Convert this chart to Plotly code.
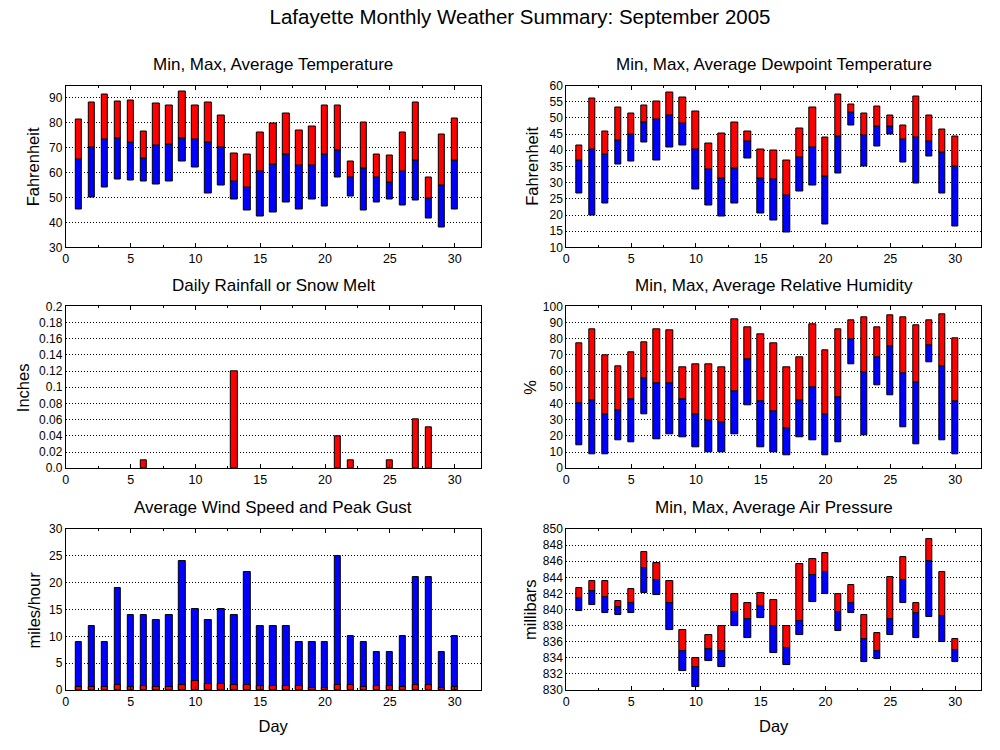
import plotly.graph_objects as go

days = list(range(1, 31))

temp_max = [81.3, 88.0, 91.3, 88.4, 88.8, 76.6, 87.6, 86.9, 92.4, 86.9, 88.0, 82.9, 67.6, 67.2, 76.2,
            79.8, 83.7, 77.0, 78.6, 86.9, 86.9, 64.4, 80.2, 67.2, 66.8, 76.2, 88.0, 58.1, 75.4, 81.7]
temp_avg = [65.3, 70.3, 73.5, 73.9, 72.3, 65.6, 71.1, 71.5, 73.9, 73.5, 72.3, 70.3, 56.5, 54.2, 60.5,
            63.2, 67.2, 62.8, 62.8, 67.2, 68.8, 58.1, 61.7, 58.1, 56.1, 60.5, 64.8, 49.8, 55.0, 64.8]
temp_min = [45.1, 50.2, 54.2, 57.3, 56.9, 56.5, 55.4, 56.5, 64.4, 62.0, 51.8, 55.0, 49.4, 44.7, 42.4,
            43.9, 47.9, 45.1, 49.1, 46.3, 58.1, 50.6, 44.7, 47.9, 49.1, 46.7, 48.7, 41.6, 38.0, 45.1]

dew_max = [41.4, 56.0, 45.9, 53.2, 51.4, 53.8, 55.0, 57.8, 56.3, 52.0, 42.0, 45.3, 48.7, 45.9, 40.2,
           39.9, 36.8, 46.8, 53.2, 43.8, 57.2, 54.1, 51.4, 53.5, 50.8, 47.8, 56.6, 50.8, 46.5, 44.1]
dew_avg = [36.7, 40.2, 38.6, 42.9, 45.0, 48.7, 49.6, 50.8, 48.4, 40.2, 34.1, 31.4, 34.4, 42.6, 31.4,
           31.1, 25.9, 37.7, 40.8, 32.0, 44.1, 51.7, 44.7, 47.4, 47.4, 43.2, 43.8, 42.6, 39.3, 35.0]
dew_min = [26.7, 19.8, 23.7, 35.6, 36.5, 42.3, 36.8, 40.8, 41.4, 28.0, 22.9, 19.5, 23.7, 37.4, 20.4,
           18.3, 14.5, 27.4, 29.2, 17.1, 32.9, 47.8, 35.0, 41.1, 45.0, 36.2, 29.8, 38.0, 26.8, 16.5]

rain = [0, 0, 0, 0, 0, 0.01, 0, 0, 0, 0, 0, 0, 0.12, 0, 0,
        0, 0, 0, 0, 0, 0.04, 0.01, 0, 0, 0.01, 0, 0.06, 0.05, 0, 0]

hum_max = [77.3, 85.8, 70.0, 62.8, 71.9, 77.9, 85.8, 85.2, 62.1, 64.0, 64.0, 62.1, 91.9, 87.0, 82.8,
           77.3, 62.1, 68.2, 88.9, 73.1, 85.8, 91.3, 93.1, 87.0, 94.3, 93.1, 88.3, 91.3, 94.9, 80.4]
hum_avg = [40.3, 42.1, 33.6, 36.0, 42.7, 55.5, 52.4, 52.4, 42.7, 33.0, 29.4, 28.1, 47.6, 67.0, 41.5,
           35.4, 24.5, 42.1, 50.0, 33.6, 43.9, 79.8, 59.1, 68.8, 75.5, 58.5, 53.0, 76.1, 62.8, 41.5]
hum_min = [14.2, 8.7, 8.7, 17.0, 16.0, 33.0, 17.8, 20.9, 19.0, 13.0, 9.9, 9.9, 20.9, 39.1, 13.0,
           9.9, 8.1, 19.0, 17.2, 8.1, 16.0, 64.0, 20.2, 51.2, 45.1, 25.1, 14.8, 65.2, 17.2, 8.7]

wind_gust = [9, 12, 9, 19, 14, 14, 13, 14, 24, 15, 13, 15, 14, 22, 12,
             12, 12, 9, 9, 9, 25, 10, 9, 7, 7, 10, 21, 21, 7, 10]
wind_avg = [0.5, 0.5, 0.5, 1.0, 0.5, 0.7, 0.5, 0.5, 1.0, 1.6, 1.2, 1.2, 0.85, 1.0, 0.7,
            0.7, 0.7, 0.7, 0.4, 0.3, 0.85, 0.85, 0.5, 0.7, 0.7, 0.5, 0.85, 0.85, 0.4, 0.5]

pres_max = [842.7, 843.5, 843.5, 841.0, 842.6, 847.2, 845.8, 843.5, 837.4, 834.0, 836.8, 837.9, 841.9, 840.8, 842.0,
            841.2, 838.0, 845.7, 846.3, 847.0, 841.9, 843.1, 839.3, 837.1, 844.0, 846.5, 840.8, 848.8, 844.7, 836.3]
pres_avg = [841.4, 842.3, 841.6, 840.3, 840.8, 845.1, 843.7, 840.8, 834.8, 832.8, 835.1, 834.8, 839.7, 838.8, 840.4,
            838.0, 835.2, 838.6, 844.3, 844.6, 839.7, 840.8, 836.3, 834.8, 838.8, 843.7, 839.5, 846.0, 839.2, 835.0]
pres_min = [839.8, 840.5, 839.6, 839.3, 839.6, 842.1, 841.8, 837.5, 832.3, 830.4, 833.6, 832.9, 838.0, 836.5, 839.0,
            834.6, 833.1, 836.8, 840.9, 841.9, 837.3, 839.5, 833.5, 833.9, 836.8, 840.8, 836.4, 839.1, 836.0, 833.5]

RED = "#ff0000"
BLUE = "#0000ff"
BW = 0.5
LINE = dict(color="black", width=1)

fig = go.Figure()


def range_bars(n, mn, av, mx):
    fig.add_trace(go.Bar(x=days, y=[a - b for a, b in zip(av, mn)], base=mn, width=BW,
                         marker=dict(color=BLUE, line=LINE), xaxis=f"x{n}", yaxis=f"y{n}",
                         showlegend=False, hoverinfo="skip"))
    fig.add_trace(go.Bar(x=days, y=[a - b for a, b in zip(mx, av)], base=av, width=BW,
                         marker=dict(color=RED, line=LINE), xaxis=f"x{n}", yaxis=f"y{n}",
                         showlegend=False, hoverinfo="skip"))


range_bars(1, temp_min, temp_avg, temp_max)
range_bars(2, dew_min, dew_avg, dew_max)
fig.add_trace(go.Bar(x=days, y=rain, width=BW,
                     marker=dict(color=RED, line=dict(color="black", width=[1 if v > 0 else 0 for v in rain])),
                     xaxis="x3", yaxis="y3", showlegend=False, hoverinfo="skip"))
range_bars(4, hum_min, hum_avg, hum_max)
fig.add_trace(go.Bar(x=days, y=wind_gust, width=BW, marker=dict(color=BLUE, line=LINE),
                     xaxis="x5", yaxis="y5", showlegend=False, hoverinfo="skip"))
fig.add_trace(go.Bar(x=days, y=wind_avg, width=BW, marker=dict(color=RED, line=LINE),
                     xaxis="x5", yaxis="y5", showlegend=False, hoverinfo="skip"))
range_bars(6, pres_min, pres_avg, pres_max)

FONT = "Liberation Sans, Arial, sans-serif"
W, H = 1000, 750
xdoms = [[63 / W, 479 / W], [565 / W, 981 / W]]
ydoms = [[1 - 245 / H, 1 - 80 / H], [1 - 470 / H, 1 - 305 / H], [1 - 696 / H, 1 - 532 / H]]

yspecs = {
    1: dict(range=[30, 95], tickvals=[30, 40, 50, 60, 70, 80, 90], title="Fahrenheit", tx=31),
    2: dict(range=[10, 60], tickvals=list(range(10, 61, 5)), title="Fahrenheit", tx=531),
    3: dict(range=[0, 0.2], tickvals=[0, 0.02, 0.04, 0.06, 0.08, 0.1, 0.12, 0.14, 0.16, 0.18, 0.2],
            ticktext=["0.0", "0.02", "0.04", "0.06", "0.08", "0.1", "0.12", "0.14", "0.16", "0.18", "0.2"],
            title="Inches", tx=20),
    4: dict(range=[0, 100], tickvals=list(range(0, 101, 10)), title="%", tx=529),
    5: dict(range=[0, 30], tickvals=list(range(0, 31, 5)), title="miles/hour", tx=31),
    6: dict(range=[830, 850], tickvals=list(range(830, 851, 2)), title="millibars", tx=528),
}

layout = dict(
    width=W, height=H, margin=dict(l=0, r=0, t=0, b=0),
    paper_bgcolor="white", plot_bgcolor="white",
    barmode="overlay", bargap=0,
    font=dict(family=FONT, size=12, color="black"),
    title=dict(text="Lafayette Monthly Weather Summary: September 2005", x=0.52, xanchor="center",
               y=1 - 17 / H, yanchor="middle", font=dict(size=20.5, family=FONT)),
)

for n in range(1, 7):
    row = (n - 1) // 2
    col = (n - 1) % 2
    sp = yspecs[n]
    layout[f"xaxis{n}"] = dict(
        domain=xdoms[col], anchor=f"y{n}", range=[0, 32],
        tickvals=[0, 5, 10, 15, 20, 25, 30], showgrid=False, zeroline=False,
        showline=True, linecolor="black", linewidth=1, mirror="allticks",
        ticks="inside", ticklen=4, tickcolor="black",
        minor=dict(tickvals=[2.5, 7.5, 12.5, 17.5, 22.5, 27.5], ticks="inside", ticklen=2, tickcolor="black"),
        tickfont=dict(size=12.5, family=FONT),
        title=dict(text="Day", font=dict(size=16.5, family=FONT), standoff=12) if row == 2 else None,
    )
    yax = dict(
        domain=ydoms[row], anchor=f"x{n}", range=sp["range"], tickvals=sp["tickvals"],
        showgrid=True, gridcolor="black", griddash="1px,2px", gridwidth=1, zeroline=False,
        showline=True, linecolor="black", linewidth=1, mirror=True, ticks="",
        tickfont=dict(size=12, family=FONT),
    )
    if "ticktext" in sp:
        yax["ticktext"] = sp["ticktext"]
    layout[f"yaxis{n}"] = yax

fig.update_layout(**layout)

for n in range(1, 7):
    row = (n - 1) // 2
    sp = yspecs[n]
    fig.add_annotation(text=sp["title"], x=sp["tx"] / W, y=sum(ydoms[row]) / 2, xref="paper", yref="paper",
                       showarrow=False, xanchor="center", yanchor="middle", textangle=-90,
                       font=dict(size=16.5, family=FONT))

titles = [
    ("Min, Max, Average Temperature", 271, 59),
    ("Min, Max, Average Dewpoint Temperature", 773, 59),
    ("Daily Rainfall or Snow Melt", 271, 284),
    ("Min, Max, Average Relative Humidity", 773, 284),
    ("Average Wind Speed and Peak Gust", 271, 510),
    ("Min, Max, Average Air Pressure", 773, 510),
]
for txt, px, py in titles:
    fig.add_annotation(text=txt, x=px / W, y=1 - py / H, xref="paper", yref="paper",
                       showarrow=False, xanchor="center", yanchor="middle",
                       font=dict(size=17, family=FONT))

fig.write_html("out.html", config={"displayModeBar": False},
               post_script="document.body.style.margin='0';")
